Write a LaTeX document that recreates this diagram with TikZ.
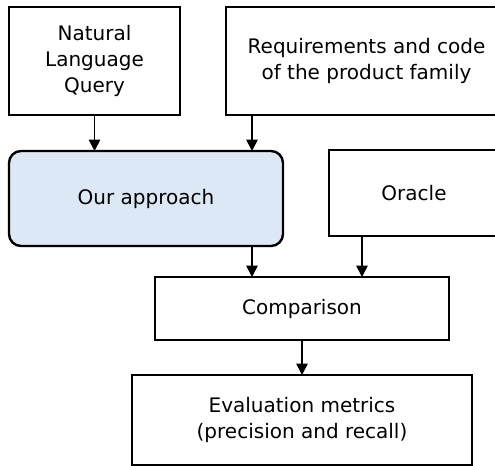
\documentclass[tikz,border=0pt]{standalone}
\usepackage{fontspec}
\setmainfont{DejaVu Sans}
\usetikzlibrary{arrows.meta,calc}
\definecolor{oursfill}{RGB}{220,232,245}
\tikzset{
  box/.style={draw=black, line width=1pt, fill=white, inner sep=0pt, outer sep=0pt,
    align=center, font=\fontsize{15pt}{19.5pt}\selectfont},
  oursbox/.style={box, line width=1.8pt, fill=oursfill, rounded corners=9pt},
  arr/.style={line width=1.3pt, -{Triangle[width=8.5pt,length=8.5pt]}}
}
\begin{document}
\begin{tikzpicture}[x=0.75pt,y=-0.75pt]
\clip (0,0) rectangle (495,466);
\fill[white] (0,0) rectangle (495,466);
\node[box, minimum width=128.25pt, minimum height=81pt] (nlq) at (94.5,61) {Natural\\Language\\Query};
\node[box, minimum width=210.75pt, minimum height=81pt] (req) at (366.5,61) {Requirements and code\\of the product family};
\node[oursbox, minimum width=205.5pt, minimum height=71.25pt] (ours) at (146,198.5) {Our approach};
\node[box, minimum width=127.5pt, minimum height=64.5pt] (oracle) at (414,193) {Oracle};
\node[box, minimum width=220.5pt, minimum height=47.25pt] (comp) at (302,308.5) {Comparison};
\node[box, minimum width=255pt, minimum height=67.5pt] (eval) at (302,420) {Evaluation metrics\\(precision and recall)};
\draw[arr] (nlq.south) -- (nlq.south |- ours.north);
\coordinate (rq) at ($(req.south west)+(26,0)$);
\draw[arr] (rq) -- (rq |- ours.north);
\coordinate (oa) at ($(ours.south east)+(-31,0)$);
\draw[arr] (oa) -- (oa |- comp.north);
\coordinate (or) at ($(oracle.south west)+(33,0)$);
\draw[arr] (or) -- (or |- comp.north);
\draw[arr] (comp.south) -- (eval.north);
\end{tikzpicture}
\end{document}
